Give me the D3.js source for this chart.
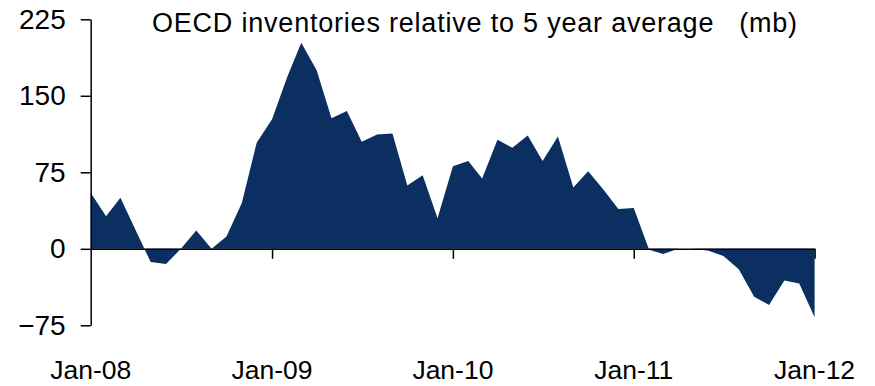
<!DOCTYPE html>
<html>
<head>
<meta charset="utf-8">
<script src="https://cdn.jsdelivr.net/npm/d3@7"></script>
<style>
    body { margin: 0; background: #fff; }
    svg text { font-family: "Liberation Sans", Arial, sans-serif; fill: #000; }
</style>
</head>
<body>
<div id="chart-wrapper"></div>
<script>
//monthly values, Jan-08 .. Jan-12 (mb)
var startMonth = new Date(2008, 0, 1);
var values = [55, 32, 50, 18, -13, -15, 0, 18, 0, 12, 45, 104,
              127, 169, 202, 175, 128, 135, 105, 112, 113, 62, 72, 30,
              81, 86, 69, 107, 99, 111, 86, 110, 60, 76, 58, 39,
              40, -1, -5, 0, 0, -2, -7, -20, -47, -55, -31, -34,
              -67];

var yTicks = [-75, 0, 75, 150, 225];
var xTickLabels = ['Jan-08', 'Jan-09', 'Jan-10', 'Jan-11', 'Jan-12'];
var xTickDates = [new Date(2008, 0, 1), new Date(2009, 0, 1), new Date(2010, 0, 1),
                  new Date(2011, 0, 1), new Date(2012, 0, 1)];

var titleText = 'OECD inventories relative to 5 year average\u00a0\u00a0\u00a0(mb)';

var width = 875,
    height = 386;

var data = values.map(function(v, i) {
    return { date: d3.timeMonth.offset(startMonth, i), value: v };
});

var svg = d3.select('#chart-wrapper').append('svg')
    .attr('width', width)
    .attr('height', height);

var x = d3.scaleTime()
    .domain([xTickDates[0], xTickDates[xTickDates.length - 1]])
    .range([90.7, 814.6]);

var y = d3.scaleLinear()
    .domain([-75, 225])
    .range([325.3, 19.3]);

var area = d3.area()
    .x(function(d) { return x(d.date); })
    .y0(y(0))
    .y1(function(d) { return y(d.value); });

svg.append('path')
    .datum(data)
    .attr('fill', '#0c2f62')
    .attr('d', area);

//y axis
var yAxis = svg.append('g')
    .attr('transform', 'translate(' + x.range()[0] + ',0)')
    .call(d3.axisLeft(y)
        .tickValues(yTicks)
        .tickSizeInner(10)
        .tickSizeOuter(0)
        .tickPadding(15)
        .tickFormat(d3.format('d')));

yAxis.selectAll('path, line')
    .attr('stroke', '#000')
    .attr('stroke-width', 1.5);
yAxis.selectAll('text')
    .attr('font-size', 28)
    .attr('font-family', '"Liberation Sans", Arial, sans-serif');

//x axis at zero
var xAxis = svg.append('g')
    .attr('transform', 'translate(0,' + y(0) + ')')
    .call(d3.axisBottom(x)
        .tickValues(xTickDates.slice(1))
        .tickSizeInner(10)
        .tickSizeOuter(0)
        .tickFormat(''));

xAxis.selectAll('path, line')
    .attr('stroke', '#000')
    .attr('stroke-width', 1.5);

//x labels at the bottom
svg.append('g').selectAll('text')
    .data(xTickDates)
    .enter().append('text')
    .attr('x', function(d) { return x(d); })
    .attr('y', 379)
    .attr('text-anchor', 'middle')
    .attr('font-size', 26.5)
    .text(function(d, i) { return xTickLabels[i]; });

svg.append('text')
    .attr('x', 152)
    .attr('y', 32)
    .attr('font-size', 27)
    .attr('textLength', 645)
    .text(titleText);
</script>
</body>
</html>
